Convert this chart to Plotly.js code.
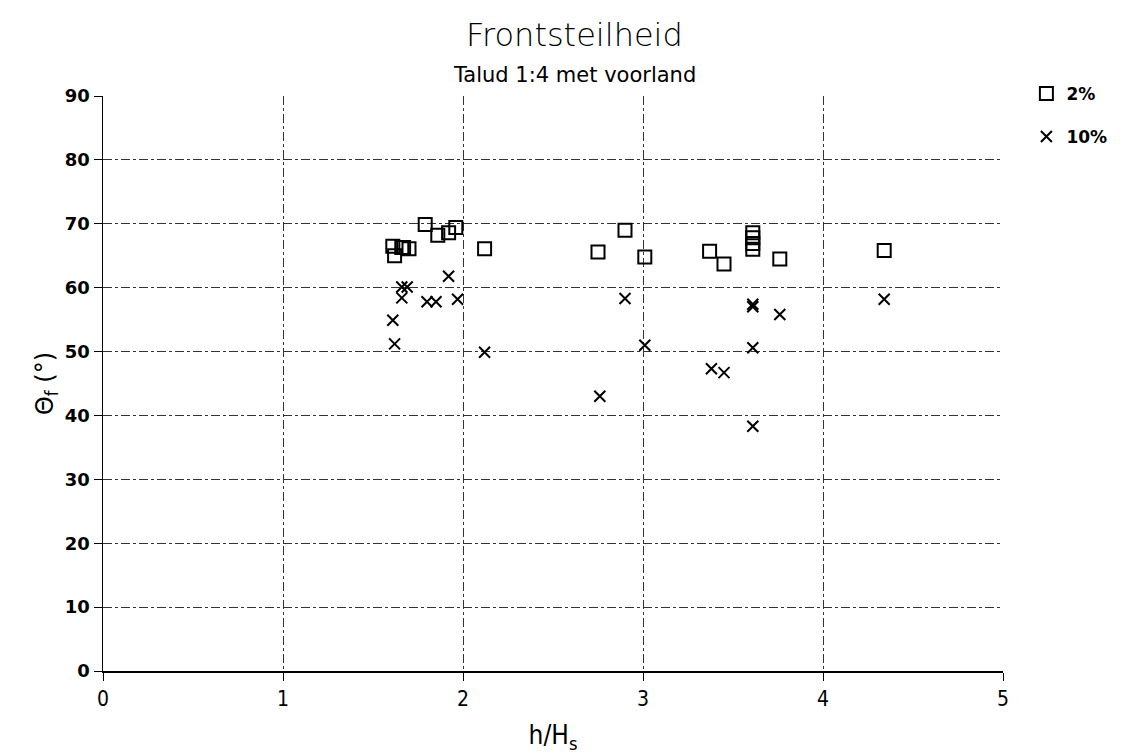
<!DOCTYPE html>
<html>
<head>
<meta charset="utf-8">
<script src="https://cdn.plot.ly/plotly-3.0.1.min.js"></script>
<style>html,body{margin:0;padding:0;background:#fff;}#chart{width:1148px;height:754px;}</style>
</head>
<body>
<div id="chart"></div>
<script>
// 2% series (squares)
const x2 = [1.61, 1.62, 1.66, 1.67, 1.70, 1.79, 1.86, 1.92, 1.96, 2.12, 2.75, 2.90, 3.01, 3.37, 3.45, 3.61, 3.61, 3.61, 3.61, 3.76, 4.34];
const y2 = [66.5, 65.0, 66.3, 66.3, 66.1, 69.9, 68.2, 68.6, 69.4, 66.1, 65.6, 69.0, 64.8, 65.7, 63.7, 68.6, 67.8, 66.9, 66.0, 64.5, 65.8];
// 10% series (crosses)
const x10 = [1.92, 1.66, 1.69, 1.66, 1.80, 1.85, 1.97, 1.61, 1.62, 2.12, 2.90, 3.01, 2.76, 3.61, 3.61, 3.76, 3.61, 3.38, 3.45, 3.61, 4.34];
const y10 = [61.8, 60.1, 60.1, 58.4, 57.8, 57.8, 58.2, 54.9, 51.2, 49.9, 58.3, 51.0, 43.0, 57.4, 57.0, 55.8, 50.6, 47.3, 46.7, 38.3, 58.2];
const names = ["2%", "10%"];
const xTicks = [0, 1, 2, 3, 4, 5];
const yTicks = [0, 10, 20, 30, 40, 50, 60, 70, 80, 90];
const titleText = "Frontsteilheid";
const subtitleText = "Talud 1:4 met voorland";

const traces = [
  {x: x2, y: y2, name: names[0], type: "scatter", mode: "markers", legendgroup: "a",
   marker: {symbol: "square-open", size: 13, color: "#000", line: {width: 2, color: "#000"}}},
  {x: x10, y: y10, name: names[1], type: "scatter", mode: "markers", legendgroup: "b",
   marker: {symbol: "x-thin-open", size: 11, color: "#000", line: {width: 2, color: "#000"}}}
];

const layout = {
  width: 1148, height: 754,
  paper_bgcolor: "#fff", plot_bgcolor: "#fff",
  margin: {l: 103, r: 145, t: 96, b: 83},
  annotations: [
    {text: titleText, xref: "paper", yref: "paper", x: 0.524, y: 1.106, xanchor: "center", yanchor: "middle",
     showarrow: false, font: {family: "DejaVu Sans, sans-serif", size: 32, color: "#000", weight: 300}},
    {text: subtitleText, xref: "paper", yref: "paper", x: 0.524, y: 1.036, xanchor: "center", yanchor: "middle",
     showarrow: false, font: {family: "DejaVu Sans, sans-serif", size: 21, color: "#000"}}
  ],
  xaxis: {
    range: [0, 5], tickvals: xTicks, ticktext: xTicks.map(String),
    showgrid: true, gridcolor: "#333", griddash: "dashdot", gridwidth: 1,
    showline: true, linecolor: "#000", linewidth: 1.5,
    ticks: "outside", ticklen: 8, tickcolor: "#000",
    zeroline: false,
    tickfont: {family: "DejaVu Sans Condensed, sans-serif", size: 21, color: "#000"},
    title: {text: "h/H<sub>s</sub>", font: {family: "DejaVu Sans Condensed, sans-serif", size: 26, color: "#000"}, standoff: 16}
  },
  yaxis: {
    range: [0, 90], tickvals: yTicks, ticktext: yTicks.map(String),
    showgrid: true, gridcolor: "#333", griddash: "dashdot", gridwidth: 1,
    showline: true, linecolor: "#000", linewidth: 1.5,
    ticks: "outside", ticklen: 8, tickcolor: "#000",
    zeroline: false,
    tickfont: {family: "DejaVu Sans, sans-serif", size: 18, color: "#000", weight: "bold"},
    title: {text: "Θ<sub>f</sub> (°)", font: {family: "DejaVu Sans, sans-serif", size: 24, color: "#000"}, standoff: 4}
  },
  showlegend: true,
  legend: {
    x: 1.026, y: 1.035, xanchor: "left", yanchor: "top",
    font: {family: "DejaVu Sans, sans-serif", size: 17, color: "#000", weight: "bold"},
    bgcolor: "rgba(0,0,0,0)", tracegroupgap: 18
  }
};

Plotly.newPlot("chart", traces, layout, {displayModeBar: false, staticPlot: true});
</script>
</body>
</html>
